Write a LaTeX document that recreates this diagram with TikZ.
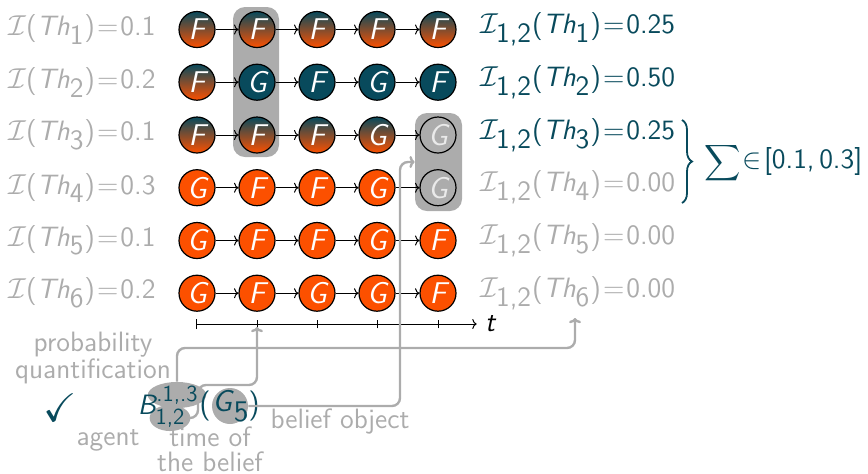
\documentclass[tikz,border=0pt]{standalone}
\usepackage{amssymb}
\usepackage{graphicx}
\usetikzlibrary{shapes.geometric,decorations.pathreplacing,arrows.meta}
\definecolor{teal0}{RGB}{8,74,92}
\definecolor{orng}{RGB}{252,80,0}
\definecolor{gry}{RGB}{172,172,172}
\newcommand\Ilab[2]{$\mathcal{I}$(\textit{Th}$_{\textsf{#1}}$)\kern1pt=\kern1pt#2}
\newcommand\Jlab[2]{$\mathcal{I}_{\textsf{1,2}}$(\textit{Th}$_{\textsf{#1}}$)\kern1pt=\kern1pt#2}
\begin{document}
\begin{tikzpicture}[x=0.5pt,y=-0.5pt,
  font=\fontsize{14}{16}\selectfont\sffamily,
  st/.style={circle, draw=black, line width=0.6pt, minimum size=18pt, inner sep=0pt, text=white, font=\fontsize{15}{16}\selectfont\sffamily\itshape},
  grad/.style={st, top color=teal0, bottom color=orng},
  tl/.style={st, fill=teal0},
  og/.style={st, fill=orng},
  gy/.style={st, fill=gry, text=white!75!gry},
  hl/.style={fill=gry, rounded corners=6pt, inner sep=0pt},
  lab/.style={anchor=west, inner sep=0pt},
  seq/.style={-{To[length=2.2pt,width=5pt]}, line width=0.5pt},
  conn/.style={draw=gry, line width=1.2pt, rounded corners=4pt, -{To[length=2.6pt,width=6pt]}},
  note/.style={text=gry, align=center, inner sep=0pt, font=\fontsize{14}{12.5}\selectfont\sffamily},
  ell/.style={ellipse, fill=gry, inner sep=0pt, text=teal0, font=\fontsize{11.5}{12}\selectfont\sffamily}
]
\useasboundingbox (0,0) rectangle (868,473);
% highlight boxes
\node[hl, minimum width=23pt, minimum height=75pt] (hlA) at (256,82) {};
\node[hl, minimum width=23.5pt, minimum height=49pt] (hlB) at (438.5,162) {};
% row 1
\node[grad] (a1) at (197,29.5) {F};
\node[grad] (a2) at (257,29.5) {F};
\node[grad] (a3) at (317,29.5) {F};
\node[grad] (a4) at (377,29.5) {F};
\node[grad] (a5) at (438,29.5) {F};
% row 2
\node[grad] (b1) at (197,82.2) {F};
\node[tl] (b2) at (257,82.2) {G};
\node[tl] (b3) at (317,82.2) {F};
\node[tl] (b4) at (377,82.2) {G};
\node[tl] (b5) at (438,82.2) {F};
% row 3
\node[grad] (c1) at (197,135) {F};
\node[grad] (c2) at (257,135) {F};
\node[grad] (c3) at (317,135) {F};
\node[grad] (c4) at (377,135) {G};
\node[gy] (c5) at (438,135) {G};
% row 4
\node[og] (d1) at (197,187.7) {G};
\node[og] (d2) at (257,187.7) {F};
\node[og] (d3) at (317,187.7) {F};
\node[og] (d4) at (377,187.7) {G};
\node[gy] (d5) at (438,187.7) {G};
% row 5
\node[og] (e1) at (197,240.5) {G};
\node[og] (e2) at (257,240.5) {F};
\node[og] (e3) at (317,240.5) {F};
\node[og] (e4) at (377,240.5) {G};
\node[og] (e5) at (438,240.5) {F};
% row 6
\node[og] (f1) at (197,293.2) {G};
\node[og] (f2) at (257,293.2) {F};
\node[og] (f3) at (317,293.2) {G};
\node[og] (f4) at (377,293.2) {G};
\node[og] (f5) at (438,293.2) {F};
\foreach \r in {a,b,c,d,e,f}{
  \draw[seq] (\r1) -- (\r2);
  \draw[seq] (\r2) -- (\r3);
  \draw[seq] (\r3) -- (\r4);
  \draw[seq] (\r4) -- (\r5);
}
% left labels
\node[lab, text=gry] (l1) at (8,29.5) {\Ilab{1}{0.1}};
\node[lab, text=gry] (l2) at (8,82.2) {\Ilab{2}{0.2}};
\node[lab, text=gry] (l3) at (8,135) {\Ilab{3}{0.1}};
\node[lab, text=gry] (l4) at (8,187.7) {\Ilab{4}{0.3}};
\node[lab, text=gry] (l5) at (8,240.5) {\Ilab{5}{0.1}};
\node[lab, text=gry] (l6) at (8,293.2) {\Ilab{6}{0.2}};
% right labels
\node[lab, text=teal0] (r1) at (480,29.5) {\Jlab{1}{0.25}};
\node[lab, text=teal0] (r2) at (480,82.2) {\Jlab{2}{0.50}};
\node[lab, text=teal0] (r3) at (480,135) {\Jlab{3}{0.25}};
\node[lab, text=gry] (r4) at (480,187.7) {\Jlab{4}{0.00}};
\node[lab, text=gry] (r5) at (480,240.5) {\Jlab{5}{0.00}};
\node[lab, text=gry] (r6) at (480,293.2) {\Jlab{6}{0.00}};
% brace
\coordinate (bt) at (682,120);
\coordinate (bb) at (682,203);
\draw[teal0, line width=0.9pt, decorate, decoration={brace, amplitude=5pt}] (bt) -- (bb);
\node[lab, text=teal0] (sum) at (704,163) {\raisebox{-0.5pt}{\scalebox{0.9}{$\displaystyle\sum$}}\kern1pt$\in$\kern1pt[0.1,\,0.3]};
% time axis
\coordinate (t0) at (196,324);
\coordinate (tk2) at (257,324);
\coordinate (tk3) at (317,324);
\coordinate (tk4) at (377,324);
\coordinate (tk5) at (438,324);
\node[inner sep=0pt, font=\fontsize{14}{16}\selectfont\sffamily\itshape] (tl) at (490,324) {t};
\draw[seq, {Bar[width=5pt]}-{To[length=2.2pt,width=5pt]}] (t0) -- ([xshift=-4pt]tl.west);
\foreach \k in {tk2,tk3,tk4,tk5}{ \draw[line width=0.5pt] ([yshift=-2.2pt]\k) -- ([yshift=2.2pt]\k); }
% bottom expression
\node[text=teal0, font=\fontsize{20}{20}\selectfont] (chk) at (60,408) {$\checkmark$};
\node[ell, minimum width=23pt, minimum height=13pt] (sup) at (177,395) {.1,.3};
\node[ell, minimum width=20pt, minimum height=12.5pt] (sub) at (170,418) {1,2};
\node[text=teal0, inner sep=0pt, font=\fontsize{14}{16}\selectfont\sffamily\itshape] (B) at (147,405) {B};
\node[circle, fill=gry, minimum size=18pt, inner sep=0pt] (g5) at (230,406) {};
\node[text=teal0, inner sep=0pt, font=\fontsize{15}{16}\selectfont\sffamily] (g5t) at (231,406) {\textit{G}$_{\textsf{5}}$};
\node[text=teal0, inner sep=0pt, font=\fontsize{15}{16}\selectfont\sffamily] (lp) at (205,406) {(};
\node[text=teal0, inner sep=0pt, font=\fontsize{15}{16}\selectfont\sffamily] (rp) at (254,406) {)};
% notes
\node[note] (pq) at (93,358) {probability\\quantification};
\node[note] (ag) at (108,440) {agent};
\node[note] (tb) at (210,449) {time of\\the belief};
\node[note] (bo) at (340,421) {belief object};
% connectors
\coordinate (k1) at (177,348);
\coordinate (tip6) at (575,318);
\coordinate (k2) at (198,385);
\coordinate (k3) at (257,385);
\coordinate (tp2) at (257,327);
\coordinate (k4) at (400,406);
\draw[conn] (sup.north) -- (k1) -| (tip6);
\draw[conn] (sub.east) -| (k2) -- (k3) -- (tp2);
\draw[conn] (g5.east) -- (k4) |- (hlB.west);
\end{tikzpicture}
\end{document}
